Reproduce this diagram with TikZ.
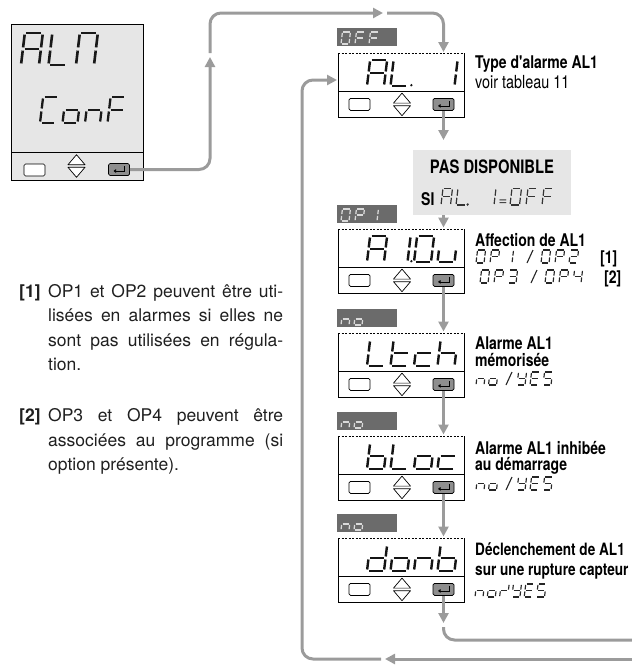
\documentclass[tikz,border=0pt]{standalone}
\usepackage{fontspec}
\setmainfont{TeX Gyre Heros}
\newfontfamily\cnd[FakeStretch=0.8]{TeX Gyre Heros}
\usetikzlibrary{arrows.meta}
\definecolor{arr}{HTML}{9B9B9B}
\definecolor{lblbg}{HTML}{6B6B6B}
\definecolor{lbltx}{HTML}{DADADA}
\definecolor{panel}{HTML}{E6E6E6}
\definecolor{btn}{HTML}{8E8E8E}
% seven-segment drawing
\newcommand\SGa{\draw[sgline] (0,1)--(1,1);}
\newcommand\SGb{\draw[sgline] (1,1)--(1,.5);}
\newcommand\SGc{\draw[sgline] (1,.5)--(1,0);}
\newcommand\SGd{\draw[sgline] (1,0)--(0,0);}
\newcommand\SGe{\draw[sgline] (0,0)--(0,.5);}
\newcommand\SGf{\draw[sgline] (0,.5)--(0,1);}
\newcommand\SGg{\draw[sgline] (0,.5)--(1,.5);}
\newcommand\SGp{\fill[sgline] (1.22,0.03) circle[radius=1.3pt];}
\newcommand\SGz{}
\newcommand\defseg[2]{\expandafter\def\csname SGch#1\endcsname{#2}}
\defseg{A}{a,b,c,e,f,g}
\defseg{L}{d,e,f}
\defseg{Lp}{d,e,f,p}
\defseg{M}{a,b,c,e,f}
\defseg{C}{a,d,e,f}
\defseg{o}{c,d,e,g}
\defseg{n}{c,e,g}
\defseg{F}{a,e,f,g}
\defseg{O}{a,b,c,d,e,f}
\defseg{P}{a,b,e,f,g}
\defseg{1}{b,c}
\defseg{1p}{b,c,p}
\defseg{u}{c,d,e}
\defseg{t}{d,e,f,g}
\defseg{c}{d,e,g}
\defseg{h}{c,e,f,g}
\defseg{b}{c,d,e,f,g}
\defseg{d}{b,c,d,e,g}
\defseg{2}{a,b,d,e,g}
\defseg{3}{a,b,c,d,g}
\defseg{4}{b,c,f,g}
\defseg{Y}{b,c,d,f,g}
\defseg{E}{a,d,e,f,g}
\defseg{S}{a,c,d,f,g}
\defseg{sl}{b,e,g}
\defseg{X}{z}
% #1 style, #2 x, #3 y bottom, #4 width, #5 height, #6 pitch, #7 chars
\newcommand\segstr[7]{%
 \begin{scope}[sgline/.style={#1}]
 \foreach \cc [count=\ii from 0] in {#7}{%
  \begin{scope}[shift={({#2+\ii*#6},{#3})},x=#4pt,y=#5pt,xslant=0.12]
   \edef\seglist{\csname SGch\cc\endcsname}%
   \foreach \ss in \seglist {\csname SG\ss\endcsname}%
  \end{scope}}%
 \end{scope}}
\tikzset{
 conn/.style={draw=arr, line width=3pt, rounded corners=11pt, -{Triangle[length=10pt,width=10pt]}},
 connp/.style={draw=arr, line width=3pt, rounded corners=11pt},
 dispnode/.style={rectangle, inner sep=0, minimum width=126pt, minimum height=64pt, fill=white},
 lblnode/.style={rectangle, inner sep=0, minimum width=60pt, minimum height=18pt, fill=lblbg},
 emptybtn/.style={rectangle, rounded corners=1.5pt, draw, line width=.7pt, fill=white, minimum width=21pt, minimum height=12pt, inner sep=0},
 entbtn/.style={emptybtn, fill=btn},
 ud/.style={draw, line width=.7pt, fill=white, line join=round},
 hd/.style={font=\cnd\bfseries\fontsize{17.5}{17.5}\selectfont, anchor=base west, inner sep=0},
 hds/.style={hd, font=\cnd\bfseries\fontsize{17}{17}\selectfont},
 rg/.style={font=\cnd\fontsize{18}{18}\selectfont, anchor=base west, inner sep=0},
 fn/.style={font=\fontsize{17.5}{17.5}\selectfont, anchor=base west, inner sep=0, text=black!88},
 fnb/.style={fn, font=\bfseries\fontsize{17.5}{17.5}\selectfont},
 almseg/.style={line width=2.6pt, shorten <=1.6pt, shorten >=1.6pt, color=black!90},
 confseg/.style={line width=2.3pt, shorten <=1.5pt, shorten >=1.5pt, color=black!90},
 bigseg/.style={line width=2.4pt, shorten <=1.5pt, shorten >=1.5pt, color=black!92},
 smseg/.style={line width=1.15pt, shorten <=.9pt, shorten >=.9pt, color=black!85},
 lblseg/.style={line width=1.25pt, shorten <=.9pt, shorten >=.9pt, color=lbltx},
 siseg/.style={line width=1.2pt, shorten <=1pt, shorten >=1pt, color=black!80},
 slashst/.style={line width=1.1pt, color=black!85},
}
\newcommand\updown[1]{%
 \draw[ud] ([shift={(-8.5,-1.3)}]#1) -- ([shift={(0,-11.3)}]#1) -- ([shift={(8.5,-1.3)}]#1) -- cycle;
 \draw[ud] ([shift={(-8.5,1.3)}]#1) -- ([shift={(0,11.3)}]#1) -- ([shift={(8.5,1.3)}]#1) -- cycle;}
\newcommand\entsym[1]{%
 \draw[line width=.8pt, -{Triangle[length=2.5pt,width=3.5pt]}] ([shift={(5.5,-3.5)}]#1.center) -- ([shift={(5.5,1.5)}]#1.center) -- ([shift={(-5.5,1.5)}]#1.center);}
\newcommand\dispbox[2]{%
 \node[dispnode, anchor=north west] (#1) at (338,#2) {};
 \draw[line width=.8pt] (#1.north east) -- (#1.south east) -- (#1.south west) -- (#1.north west);
 \draw[line width=.8pt, dash pattern=on 2pt off 1.5pt] (#1.north west) -- (#1.north east);
 \draw[line width=.8pt] ([yshift=26pt]#1.south west) -- ([yshift=26pt]#1.south east);
 \node[emptybtn] (#1-e) at ([shift={(21.5,-13)}]#1.south west) {};
 \coordinate (#1-ud) at ([shift={(64,-13)}]#1.south west);
 \updown{#1-ud}
 \node[entbtn] (#1-ent) at ([shift={(105.5,-13)}]#1.south west) {};
 \entsym{#1-ent}}
\newcommand\dlabel[2]{\node[lblnode, anchor=north west] (#1) at (337,#2) {};}
\begin{document}
\begin{tikzpicture}[x=1pt,y=-1pt]
\useasboundingbox (0,0) rectangle (632,667);
% ---------- ALM box
\node[rectangle, inner sep=0, minimum width=132pt, minimum height=156pt, fill=panel, draw, line width=.8pt, anchor=north west] (alm) at (11,24) {};
\draw[line width=.8pt] ([yshift=28pt]alm.south west) -- ([yshift=28pt]alm.south east);
\node[emptybtn] (alm-e) at (34.5,170) {};
\coordinate (alm-ud) at (76.5,166);
\updown{alm-ud}
\node[entbtn] (alm-ent) at (119,169.5) {};
\entsym{alm-ent}
\segstr{almseg}{21}{65}{18}{32}{27.5}{A,L,M}
\segstr{confseg}{40}{123}{15}{26}{22.5}{C,o,n,F}
% ---------- displays
\dlabel{l1}{28}
\segstr{lblseg}{341}{44}{8}{12}{14}{O,F,F}
\dispbox{d1}{53}
\segstr{bigseg}{367}{86}{17}{26}{23.5}{A,Lp,X,1}
\node[rectangle, fill=panel, minimum width=158pt, minimum height=65pt, inner sep=0, anchor=north west] (na) at (413,150) {};
\dlabel{l2}{205}
\segstr{lblseg}{341}{221}{8}{12}{14}{O,P,1}
\dispbox{d2}{229}
\segstr{bigseg}{367}{262}{17}{26}{23.5}{A,1p,O,u}
\dlabel{l3}{309}
\segstr{lblseg}{341}{325}{8}{12}{13}{n,o}
\dispbox{d3}{333}
\segstr{bigseg}{367}{366}{17}{26}{23.5}{L,t,c,h}
\dlabel{l4}{412}
\segstr{lblseg}{341}{428}{8}{12}{13}{n,o}
\dispbox{d4}{436}
\segstr{bigseg}{367}{469}{17}{26}{23.5}{b,L,o,c}
\dlabel{l5}{514}
\segstr{lblseg}{341}{530}{8}{12}{13}{n,o}
\dispbox{d5}{538}
\segstr{bigseg}{367}{571}{17}{26}{23.5}{d,o,n,b}
% ---------- connectors
\coordinate (t1) at (210,57);
\coordinate (t1b) at (210,53);
\coordinate (t2) at (383,13);
\coordinate (t2b) at (387,13);
\draw[conn] (alm-ent.east) -- (alm-ent.east -| t1) -- (t1);
\draw[conn] (t1b) |- (t2);
\draw[conn, shorten >=1pt] (t2b) -| (d1-ent |- d1.north);
\draw[conn, shorten >=10pt] (d1-ent.south) -- (d1-ent |- na.north);
\draw[conn, shorten >=1.5pt] (na.south -| d1-ent) -- (d2-ent |- d2.north);
\draw[conn, shorten >=1.5pt] (d2-ent.south) -- (d3-ent |- d3.north);
\draw[conn, shorten >=1.5pt] (d3-ent.south) -- (d4-ent |- d4.north);
\draw[conn, shorten >=1.5pt] (d4-ent.south) -- (d5-ent |- d5.north);
\coordinate (t5) at (443.5,623);
\coordinate (t5b) at (443.5,627);
\coordinate (r1) at (640,640);
\draw[conn] (d5-ent.south) -- (t5);
\draw[connp] (t5b) |- (r1);
\coordinate (r2) at (640,659);
\coordinate (t6) at (385,659);
\coordinate (t6b) at (381,659);
\coordinate (lp) at (302,80);
\draw[conn] (r2) -- (t6);
\draw[conn, shorten >=1pt] (t6b) -| (lp) -- (lp -| d1.west);
% ---------- texts right
\node[hd] (h1) at (475,68) {Type d'alarme AL1};
\node[rg] (h1b) at (475,88) {voir tableau 11};
\node[hd, anchor=base, font=\cnd\bfseries\fontsize{18.5}{18.5}\selectfont] (h2) at (492,173) {PAS DISPONIBLE};
\node[hd] (h2b) at (421,205) {SI};
\segstr{siseg}{441}{205}{9.5}{16.5}{15}{A,Lp}
\segstr{siseg}{484.5}{205}{9.5}{16.5}{15}{1}
\node[anchor=base west, inner sep=0, font=\fontsize{15}{15}\selectfont, text=black!80] (eq) at (498.5,205) {=};
\segstr{siseg}{510}{205}{9.5}{16.5}{16}{O,F,F}
\node[hd] (h3) at (475,246) {Affection de AL1};
\segstr{smseg}{476}{263}{8}{13}{14}{O,P,1}
\draw[slashst] (527,263) -- (533,250);
\segstr{smseg}{541}{263}{8}{13}{14}{O,P,2}
\node[hd] (n1) at (600,263) {[1]};
\segstr{smseg}{480}{283}{8}{13}{14}{O,P,3}
\draw[slashst] (531,283) -- (537,270);
\segstr{smseg}{545}{283}{8}{13}{14}{O,P,4}
\node[hd] (n2) at (604,283) {[2]};
\node[hd] (h4) at (475,349) {Alarme AL1};
\node[hd] (h4b) at (475,366) {mémorisée};
\segstr{smseg}{476}{385}{8}{13}{12.5}{n,o}
\draw[slashst] (506,385) -- (512,372);
\segstr{smseg}{517}{385}{8}{13}{13}{Y,E,S}
\node[hd] (h5) at (475,454) {Alarme AL1 inhibée};
\node[hd] (h5b) at (475,470) {au démarrage};
\segstr{smseg}{476}{490}{8}{13}{12.5}{n,o}
\draw[slashst] (506,490) -- (512,477);
\segstr{smseg}{517}{490}{8}{13}{13}{Y,E,S}
\node[hds] (h6) at (475,555) {Déclenchement de AL1};
\node[hds] (h6b) at (475,575) {sur une rupture capteur};
\segstr{smseg}{475}{597}{8}{13}{12.3}{n,o,sl,Y,E,S}
% ---------- footnotes
\node[fnb] (f1) at (19,297) {[1]};
\node[fn] (f1a) at (48,297) {\makebox[235pt][s]{OP1 et OP2 peuvent être uti-}};
\node[fn] (f1b) at (48,321.5) {\makebox[235pt][s]{lisées en alarmes si elles ne}};
\node[fn] (f1c) at (48,346) {\makebox[235pt][s]{sont pas utilisées en régula-}};
\node[fn] (f1d) at (48,370) {tion.};
\node[fnb] (f2) at (19,421.5) {[2]};
\node[fn] (f2a) at (48,421.5) {\makebox[235pt][s]{OP3 et OP4 peuvent être}};
\node[fn] (f2b) at (48,446) {\makebox[235pt][s]{associées au programme (si}};
\node[fn] (f2c) at (48,470.5) {option présente).};
\end{tikzpicture}
\end{document}
